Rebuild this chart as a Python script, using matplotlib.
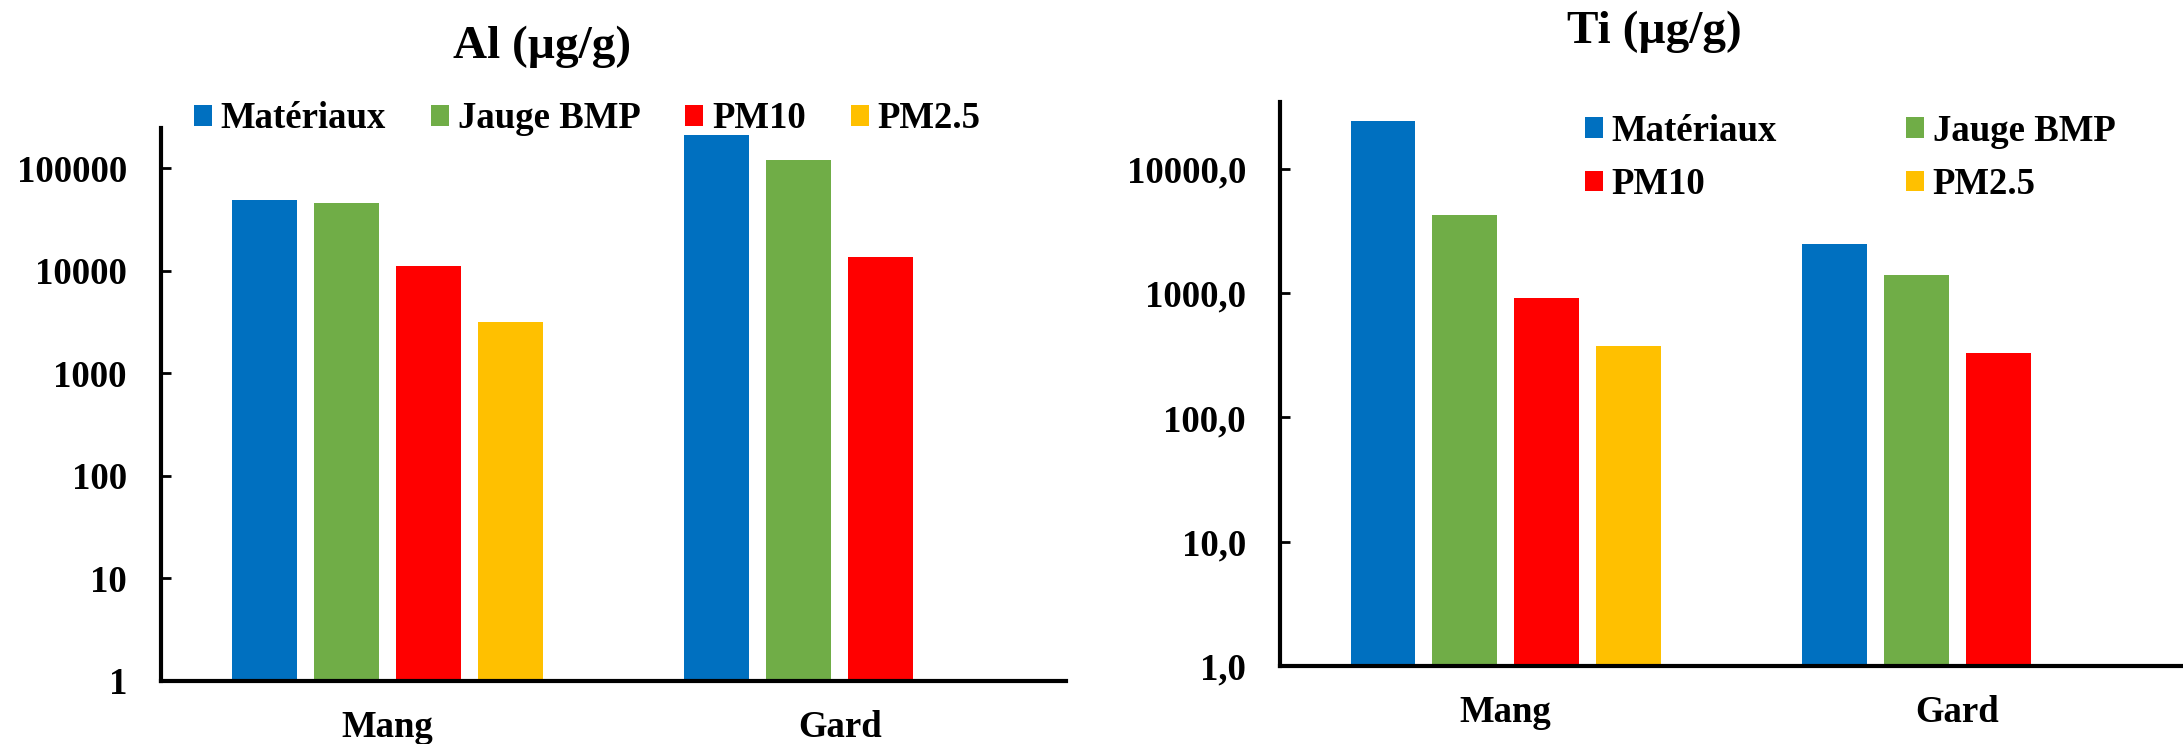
import numpy as np
import matplotlib
matplotlib.use('Agg')
import matplotlib.pyplot as plt
from matplotlib.ticker import FixedLocator, NullLocator

plt.rcParams['font.family'] = ['Liberation Serif', 'DejaVu Serif']
plt.rcParams['font.weight'] = 'bold'

sites = ['Mang', 'Gard']
series = ['Matériaux', 'Jauge BMP', 'PM10', 'PM2.5']
colors = ['#0070C0', '#70AD47', '#FF0000', '#FFC000']

# Al (µg/g), Gard has no PM2.5 value
al_mat = [48700, 212000]
al_jauge = [45600, 120000]
al_pm10 = [11300, 13700]
al_pm25 = [3150, np.nan]

# Ti (µg/g)
ti_mat = [24200, 2490]
ti_jauge = [4260, 1400]
ti_pm10 = [912, 331]
ti_pm25 = [376, np.nan]

al_ticks = [1, 10, 100, 1000, 10000, 100000]
al_ticklabels = ['1', '10', '100', '1000', '10000', '100000']
ti_ticks = [1, 10, 100, 1000, 10000]
ti_ticklabels = ['1,0', '10,0', '100,0', '1000,0', '10000,0']

fs = 26.5
W, H = 2183, 744
fig = plt.figure(figsize=(W / 100, H / 100), dpi=100)

ax1 = fig.add_axes([161 / W, 1 - 681 / H, 905 / W, 553 / H])
ax2 = fig.add_axes([1280 / W, 1 - 666 / H, 903 / W, 564 / H])

bw = 0.1436
pitch = 0.1812
x = np.arange(len(sites))


def draw(ax, data, ymax, ticks, ticklabels):
    bars = []
    for i, vals in enumerate(data):
        b = ax.bar(x + (i - 1.5) * pitch, vals, bw, color=colors[i], label=series[i], bottom=0)
        bars.append(b)
    ax.set_yscale('log')
    ax.set_ylim(1, ymax)
    ax.set_xlim(-0.5, 1.5)
    ax.yaxis.set_major_locator(FixedLocator(ticks))
    ax.yaxis.set_minor_locator(NullLocator())
    ax.set_yticklabels(ticklabels)
    ax.set_xticks(x)
    ax.set_xticklabels(sites)
    for s in ['top', 'right']:
        ax.spines[s].set_visible(False)
    for s in ['left', 'bottom']:
        ax.spines[s].set_linewidth(3)
    ax.tick_params(axis='y', direction='in', length=7, width=2, pad=24.5, labelsize=fs)
    ax.tick_params(axis='x', length=0, pad=21, labelsize=fs)
    return bars


b1 = draw(ax1, [al_mat, al_jauge, al_pm10, al_pm25], 248000, al_ticks, al_ticklabels)
b2 = draw(ax2, [ti_mat, ti_jauge, ti_pm10, ti_pm25], 34600, ti_ticks, ti_ticklabels)

fig.text(542 / W, 1 - 58 / H, 'Al (µg/g)', ha='center', va='baseline', fontsize=34, fontweight='bold')
fig.text(1654 / W, 1 - 43 / H, 'Ti (µg/g)', ha='center', va='baseline', fontsize=34, fontweight='bold')

hs = 18 / 37
fig.legend(b1, series, loc='center left', bbox_to_anchor=(194 / W, 1 - 119 / H), ncol=4,
           frameon=False, fontsize=fs, handlelength=hs, handleheight=hs, handletextpad=0.24,
           columnspacing=1.22, borderpad=0, borderaxespad=0)

order = [0, 2, 1, 3]
fig.legend([b2[i] for i in order], [series[i] for i in order], loc='center left',
           bbox_to_anchor=(1585 / W, 1 - 158 / H), ncol=2, frameon=False, fontsize=fs,
           handlelength=hs, handleheight=hs, handletextpad=0.24, columnspacing=3.5,
           labelspacing=0.5, borderpad=0, borderaxespad=0)

fig.savefig('out.png', dpi=100)
